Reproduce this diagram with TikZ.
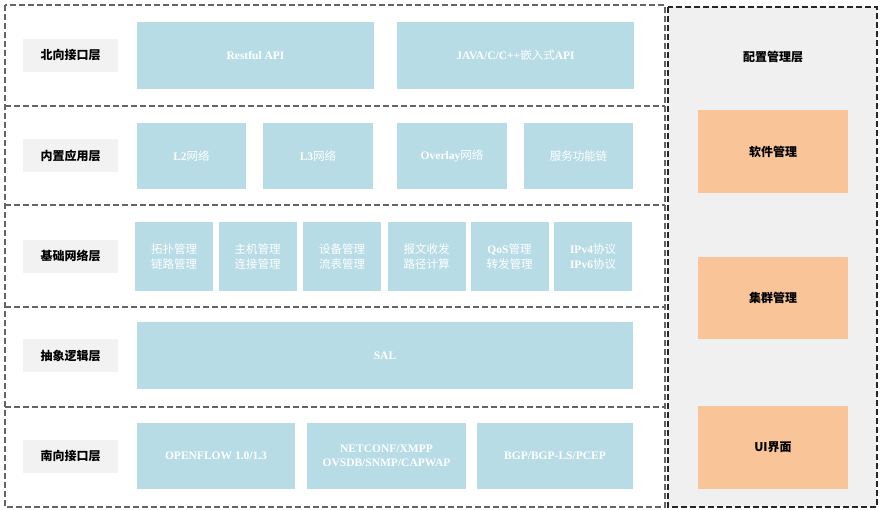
\documentclass[tikz,border=0pt]{standalone}
\usepackage{fontspec}
\setmainfont{Liberation Serif}
\newfontfamily\cjk{Noto Sans CJK SC}
\usetikzlibrary{positioning}
\definecolor{layerline}{RGB}{100,100,100}
\definecolor{tagfill}{RGB}{242,242,242}
\definecolor{modfill}{RGB}{183,220,230}
\definecolor{mgmtfill}{RGB}{248,196,152}
\definecolor{panelfill}{RGB}{240,240,240}
\newcommand{\zhtxt}[1]{{\cjk\mdseries #1}}
\tikzset{
  layerline/.style={
    draw=layerline, line width=1.1pt,
    dash pattern=on 6pt off 3pt
  },
  tagbox/.style={
    rectangle, fill=tagfill,
    minimum width=95, minimum height=33,
    font=\cjk\bfseries\fontsize{12}{14}\selectfont
  },
  modbox/.style={
    rectangle, fill=modfill, text=white,
    align=center, inner sep=0pt,
    font=\bfseries\fontsize{11.5}{14.5}\selectfont
  },
  modbox-row/.style={modbox, minimum height=66},
  modbox-small/.style={modbox, minimum width=78, minimum height=69},
  mgmtbox/.style={
    rectangle, fill=mgmtfill,
    minimum width=150, minimum height=83,
    font=\cjk\bfseries\fontsize{12}{14}\selectfont
  }
}

\begin{document}
\begin{tikzpicture}[x=1pt, y=-1pt]
  \useasboundingbox (0,0) rectangle (883,509);

  % layer frames
  \draw[layerline, fill=panelfill, draw=black!85] (668,7) rectangle (877,507);
  \draw[layerline] (5,5) rectangle (665,507);
  \draw[layerline] (5,106) -- (665,106);
  \draw[layerline] (5,205) -- (665,205);
  \draw[layerline] (5,307) -- (665,307);
  \draw[layerline] (5,407) -- (665,407);

  % layer names
  \node[tagbox] (tag1) at (70.5,55.5) {北向接口层};
  \node[tagbox] (tag2) at (70.5,155.5) {内置应用层};
  \node[tagbox] (tag3) at (70.5,256) {基础网络层};
  \node[tagbox] (tag4) at (70.5,355.5) {抽象逻辑层};
  \node[tagbox] (tag5) at (70.5,456) {南向接口层};

  % northbound
  \node[modbox, minimum width=237, minimum height=67] (restful) at (255.5,55.5) {Restful API};
  \node[modbox, minimum width=237, minimum height=67] (embapi) at (515.5,55.5) {JAVA/C/C++\zhtxt{嵌入式}API};

  % built-in apps
  \node[modbox-row, minimum width=109] (l2net) at (191.5,156) {L2\zhtxt{网络}};
  \node[modbox-row, minimum width=110] (l3net) at (318,156) {L3\zhtxt{网络}};
  \node[modbox-row, minimum width=110] (overlay) at (452,156) {Overlay\zhtxt{网络}};
  \node[modbox-row, minimum width=109] (sfc) at (578.5,156) {\zhtxt{服务功能链}};

  % base network
  \node[modbox-small] (topo) at (174,256.5) {\zhtxt{拓扑管理}\\\zhtxt{链路管理}};
  \node[modbox-small] (host) at (257.5,256.5) {\zhtxt{主机管理}\\\zhtxt{连接管理}};
  \node[modbox-small] (dev) at (342,256.5) {\zhtxt{设备管理}\\\zhtxt{流表管理}};
  \node[modbox-small] (pkt) at (426.5,256.5) {\zhtxt{报文收发}\\\zhtxt{路径计算}};
  \node[modbox-small] (qos) at (509.5,256.5) {QoS\zhtxt{管理}\\\zhtxt{转发管理}};
  \node[modbox-small] (ipver) at (593,256.5) {IPv4\zhtxt{协议}\\IPv6\zhtxt{协议}};

  % abstraction
  \node[modbox, minimum width=496, minimum height=67] (sal) at (385,355.5) {SAL};

  % southbound
  \node[modbox-row, minimum width=158] (oflow) at (216,456) {OPENFLOW 1.0/1.3};
  \node[modbox-row, minimum width=159] (netconf) at (386.5,456) {NETCONF/XMPP\\OVSDB/SNMP/CAPWAP};
  \node[modbox-row, minimum width=156] (bgp) at (555,456) {BGP/BGP-LS/PCEP};

  % management side
  \node[font=\cjk\bfseries\fontsize{12}{14}\selectfont] (cfgmgmt) at (773,57) {配置管理层};
  \node[mgmtbox] (swmgmt) at (773,151.5) {软件管理};
  \node[mgmtbox, minimum height=82] (clmgmt) at (773,298) {集群管理};
  \node[mgmtbox] (uimgmt) at (773,447.5) {UI界面};
\end{tikzpicture}
\end{document}
